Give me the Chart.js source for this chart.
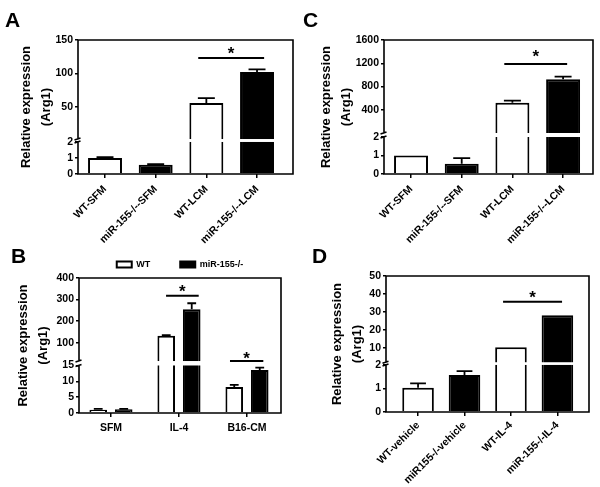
<!DOCTYPE html>
<html>
<head>
<meta charset="utf-8">
<script src="https://cdn.jsdelivr.net/npm/chart.js@4.4.1/dist/chart.umd.min.js"></script>
<style>
  html, body { margin: 0; padding: 0; background: #fff; }
  #fig { position: relative; width: 600px; height: 487px; overflow: hidden; }
  #fig canvas { position: absolute; }
  .tag { position: absolute; font: bold 21px/21px 'Liberation Sans', Arial, sans-serif; color: #000; }
</style>
</head>
<body>
<div id="fig">
  <canvas id="chartA" width="300" height="250" style="left:0;top:0"></canvas>
  <canvas id="chartC" width="300" height="250" style="left:300px;top:0"></canvas>
  <canvas id="chartB" width="300" height="257" style="left:0;top:230px"></canvas>
  <canvas id="chartD" width="300" height="247" style="left:300px;top:240px"></canvas>
  <div class="tag" style="left:5px;top:9px">A</div>
  <div class="tag" style="left:303px;top:9px">C</div>
  <div class="tag" style="left:11px;top:245px">B</div>
  <div class="tag" style="left:312px;top:245px">D</div>
</div>
<script>
// panel A
const catsA = ['WT-SFM', 'miR-155-/--SFM', 'WT-LCM', 'miR-155-/--LCM']
const valsA = [1.0, 0.57, 56, 102]
const errsA = [0.05, 0.05, 7, 4]
const ticksA = [0, 1, 2, 50, 100, 150]

// panel B
const catsB = ['SFM', 'IL-4', 'B16-CM']
const wtB = [1.0, 132, 8.2]
const wtErrB = [0.3, 3, 0.7]
const koB = [1.2, 255, 13.6]
const koErrB = [0.1, 28, 0.7]
const ticksB = [0, 5, 10, 15, 100, 200, 300, 400]

// panel C
const catsC = ['WT-SFM', 'miR-155-/--SFM', 'WT-LCM', 'miR-155-/--LCM']
const valsC = [1.0, 0.55, 522, 925]
const errsC = [0, 0.31, 35, 44]
const ticksC = [0, 1, 2, 400, 800, 1200, 1600]

// panel D
const catsD = ['WT-vehicle', 'miR155-/-vehicle', 'WT-IL-4', 'miR-155-/-IL-4']
const valsD = [1.03, 1.57, 10.4, 28.2]
const errsD = [0.19, 0.17, 0, 0]
const ticksD = [0, 1, 2, 10, 20, 30, 40, 50]

const FONT = "'Liberation Sans', Arial, sans-serif"
Chart.defaults.font.family = FONT
Chart.defaults.font.weight = 'bold'
Chart.defaults.color = '#000'

// y axis with a break: lower part and upper part get their own share of the height
class BrokenScale extends Chart.LinearScale {
  buildTicks() {
    this.start = this.min
    this.end = this.max
    return this.options.tickList.map(v => ({ value: v }))
  }
  toDecimal(v) {
    const o = this.options
    if (v <= o.breakAt) return (v - this.min) / (o.breakAt - this.min) * o.lowerFrac
    const start = o.lowerFrac + o.gapFrac
    return start + (v - o.breakAt) / (this.max - o.breakAt) * (1 - start)
  }
  getPixelForValue(v) {
    if (v === null || v === undefined || isNaN(v)) return NaN
    return this.getPixelForDecimal(this.toDecimal(v))
  }
  getValueForPixel(px) {
    const o = this.options
    const d = this.getDecimalForPixel(px)
    if (d <= o.lowerFrac) return this.min + d / o.lowerFrac * (o.breakAt - this.min)
    const start = o.lowerFrac + o.gapFrac
    return o.breakAt + (d - start) / (1 - start) * (this.max - o.breakAt)
  }
}
BrokenScale.id = 'broken'
BrokenScale.defaults = Chart.LinearScale.defaults
Chart.register(BrokenScale)

const altFill = ctx => ctx.dataIndex % 2 ? '#000' : '#fff'

// error bars, break gap, frame and significance marks
function extras(p) {
  return {
    id: 'extras',
    afterDraw(chart) {
      const { ctx, chartArea: a } = chart
      const x = chart.scales.x
      const y = chart.scales.y
      const gTop = y.getPixelForDecimal(p.lowerFrac + p.gapFrac)
      const gBot = y.getPixelForDecimal(p.lowerFrac)
      ctx.save()
      ctx.strokeStyle = '#000'
      ctx.lineWidth = 1.8
      p.series.forEach((s, di) => {
        const meta = chart.getDatasetMeta(di)
        meta.data.forEach((bar, i) => {
          const e = s.errs[i]
          if (!e) return
          const top = y.getPixelForValue(s.vals[i] + e)
          const half = bar.width / 4
          ctx.beginPath()
          ctx.moveTo(bar.x, bar.y)
          ctx.lineTo(bar.x, top)
          ctx.moveTo(bar.x - half, top)
          ctx.lineTo(bar.x + half, top)
          ctx.stroke()
        })
      })
      // white band where the axis is broken
      ctx.fillStyle = '#fff'
      p.series.forEach((s, di) => {
        const meta = chart.getDatasetMeta(di)
        meta.data.forEach((bar, i) => {
          if (s.vals[i] <= p.breakAt) return
          ctx.fillRect(bar.x - bar.width / 2 - 1.5, gTop, bar.width + 3, gBot - gTop)
        })
      })
      // frame
      ctx.lineWidth = 1.6
      ctx.beginPath()
      ctx.moveTo(a.left, gTop)
      ctx.lineTo(a.left, a.top)
      ctx.lineTo(a.right, a.top)
      ctx.lineTo(a.right, a.bottom)
      ctx.lineTo(a.left, a.bottom)
      ctx.lineTo(a.left, gBot)
      ctx.moveTo(a.left - 3.5, gTop + 1)
      ctx.lineTo(a.left + 2.5, gTop - 1)
      ctx.moveTo(a.left - 3.5, gBot + 1)
      ctx.lineTo(a.left + 2.5, gBot - 1)
      ctx.stroke()
      // significance
      ctx.lineWidth = 2
      ctx.fillStyle = '#000'
      ctx.font = 'bold 17px ' + FONT
      ctx.textAlign = 'center'
      ctx.textBaseline = 'alphabetic'
      p.sig.forEach(s => {
        const yy = y.getPixelForValue(s.y)
        const x0 = x.getPixelForValue(s.x0)
        const x1 = x.getPixelForValue(s.x1)
        ctx.beginPath()
        ctx.moveTo(x0, yy)
        ctx.lineTo(x1, yy)
        ctx.stroke()
        ctx.fillText('*', (x0 + x1) / 2, yy + 9.7 - s.dy)
      })
      ctx.restore()
    }
  }
}

function makePanel(id, p) {
  const datasets = p.series.map(s => ({
    label: s.label,
    data: s.vals.map((v, i) => ({ x: i, y: v })),
    backgroundColor: s.fill,
    borderColor: '#000',
    borderWidth: 2,
    barPercentage: p.barPct,
    categoryPercentage: p.catPct
  }))
  return new Chart(document.getElementById(id), {
    type: 'bar',
    data: { datasets },
    options: {
      responsive: false,
      animation: false,
      devicePixelRatio: 1,
      layout: { padding: { left: 0, top: p.padTop, right: p.padRight, bottom: 0 } },
      plugins: {
        tooltip: { enabled: false },
        legend: p.legend ? {
          display: true,
          position: 'top',
          fullSize: false,
          align: 'center',
          maxHeight: p.legendH,
          labels: { boxWidth: 15, boxHeight: 6, padding: 30, color: '#000', font: { size: 9, weight: 'bold' } }
        } : { display: false }
      },
      scales: {
        x: {
          type: 'linear',
          bounds: 'data',
          offset: false,
          min: p.xMin,
          max: p.xMax,
          afterBuildTicks: s => { s.ticks = p.cats.map((c, i) => ({ value: i })) },
          afterFit: s => { s.height = p.xAxisH },
          ticks: {
            autoSkip: false,
            minRotation: p.rot,
            maxRotation: p.rot,
            padding: p.xPad,
            callback: v => p.cats[v],
            font: { size: 10.5, weight: 'bold' },
            color: '#000'
          },
          grid: { offset: false, drawOnChartArea: false, tickLength: 4, color: '#000', lineWidth: 1.5 },
          border: { display: false }
        },
        y: {
          type: 'broken',
          min: 0,
          max: p.yMax,
          tickList: p.ticks,
          breakAt: p.breakAt,
          lowerFrac: p.lowerFrac,
          gapFrac: p.gapFrac,
          afterFit: s => { s.width = p.yAxisW },
          ticks: {
            autoSkip: false,
            padding: 2,
            callback: v => String(v),
            font: { size: 10.5, weight: 'bold' },
            color: '#000'
          },
          grid: { drawOnChartArea: false, tickLength: 3, color: '#000', lineWidth: 1.5 },
          border: { display: false },
          title: {
            display: true,
            text: ['Relative expression', '(Arg1)'],
            color: '#000',
            font: { size: 13, weight: 'bold', lineHeight: 1.5 },
            padding: { top: p.titlePad, bottom: 0 }
          }
        }
      }
    },
    plugins: [extras(p)]
  })
}

makePanel('chartA', {
  cats: catsA, ticks: ticksA, yMax: 150, breakAt: 2,
  series: [{ label: 'Arg1', vals: valsA, errs: errsA, fill: altFill }],
  sig: [{ x0: 1.84, x1: 3.14, y: 123, dy: 9 }],
  lowerFrac: 0.239, gapFrac: 0.022,
  yAxisW: 78, xAxisH: 76, padTop: 40, padRight: 7, titlePad: 17,
  xMin: -0.533, xMax: 3.71, rot: 45, xPad: 5, barPct: 0.67, catPct: 1
})

makePanel('chartC', {
  cats: catsC, ticks: ticksC, yMax: 1600, breakAt: 2,
  series: [{ label: 'Arg1', vals: valsC, errs: errsC, fill: altFill }],
  sig: [{ x0: 1.84, x1: 3.08, y: 1188, dy: 12 }],
  lowerFrac: 0.276, gapFrac: 0.03,
  yAxisW: 84, xAxisH: 76, padTop: 40, padRight: 7, titlePad: 17,
  xMin: -0.533, xMax: 3.59, rot: 45, xPad: 5, barPct: 0.67, catPct: 1
})

makePanel('chartB', {
  cats: catsB, ticks: ticksB, yMax: 400, breakAt: 15,
  series: [
    { label: 'WT', vals: wtB, errs: wtErrB, fill: '#fff' },
    { label: 'miR-155-/-', vals: koB, errs: koErrB, fill: '#000' }
  ],
  sig: [{ x0: 0.81, x1: 1.29, y: 318, dy: 8 }, { x0: 1.75, x1: 2.24, y: 15.2, dy: 7 }],
  lowerFrac: 0.352, gapFrac: 0.033,
  legend: true, legendH: 48,
  yAxisW: 79, xAxisH: 74, padTop: 0, padRight: 19, titlePad: 14,
  xMin: -0.47, xMax: 2.5, rot: 0, xPad: 5, barPct: 0.69, catPct: 0.75
})

makePanel('chartD', {
  cats: catsD, ticks: ticksD, yMax: 50, breakAt: 2,
  series: [{ label: 'Arg1', vals: valsD, errs: errsD, fill: altFill }],
  sig: [{ x0: 1.83, x1: 3.1, y: 35.6, dy: 9 }],
  lowerFrac: 0.346, gapFrac: 0.02,
  yAxisW: 86, xAxisH: 75, padTop: 36, padRight: 11, titlePad: 28,
  xMin: -0.69, xMax: 3.68, rot: 45, xPad: 3, barPct: 0.68, catPct: 1
})
</script>
</body>
</html>
